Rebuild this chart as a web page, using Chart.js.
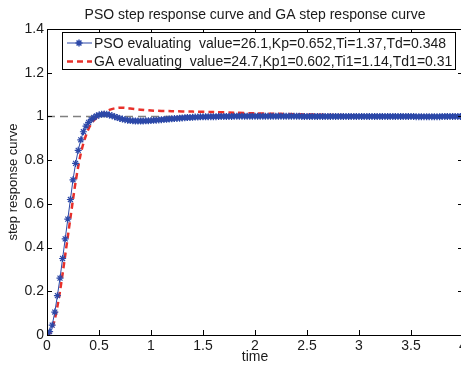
<!DOCTYPE html>
<html>
<head>
<meta charset="utf-8">
<script src="https://cdn.jsdelivr.net/npm/chart.js@4"></script>
<style>
  body { margin: 0; overflow: hidden; background: #fff; }
  #wrap { width: 480px; height: 365px; }
</style>
</head>
<body>
<div id="wrap"><canvas id="stepChart" width="480" height="365"></canvas></div>
<script>
// tick labels
const xTicks = [0, 0.5, 1, 1.5, 2, 2.5, 3, 3.5, 4];
const yTicks = [0, 0.2, 0.4, 0.6, 0.8, 1, 1.2, 1.4];

// PSO response, sampled every 0.025 s from 0 to 4 s
const psoStep = 0.025;
const psoValue = [
  0, 0.015, 0.045, 0.105, 0.18, 0.26, 0.35, 0.44, 0.53, 0.62,
  0.71, 0.785, 0.845, 0.893, 0.93, 0.956, 0.973, 0.985, 0.995, 1.002,
  1.007, 1.010, 1.011, 1.010, 1.007, 1.003, 0.999, 0.995, 0.991, 0.988,
  0.985, 0.983, 0.981, 0.980, 0.979, 0.979, 0.979, 0.979, 0.980, 0.980,
  0.981, 0.982, 0.983, 0.984, 0.985, 0.986, 0.987, 0.988, 0.989, 0.990,
  0.991, 0.992, 0.993, 0.994, 0.995, 0.995, 0.996, 0.997, 0.997, 0.998,
  0.998, 0.998, 0.999, 0.999, 0.999, 0.999, 1.000, 1.000, 1.000, 1.000,
  1.000, 1.000, 1.001, 1.001, 1.001, 1.001, 1.001, 1.001, 1.001, 1.001,
  1.001, 1.001, 1.001, 1.001, 1.001, 1.001, 1.001, 1.001, 1.001, 1.001,
  1.001, 1.001, 1.001, 1.001, 1.001, 1.001, 1.001, 1.001, 1.000, 1.000,
  1.000, 1.000, 1.000, 1.000, 1.000, 1.000, 1.000, 1.000, 1.000, 1.000,
  1.000, 1.000, 1.000, 1.000, 1.000, 1.000, 1.000, 1.000, 1.000, 1.000,
  1.000, 1.000, 1.000, 1.000, 1.000, 1.000, 1.000, 1.000, 1.000, 1.000,
  1.000, 1.000, 1.000, 1.000, 1.000, 1.000, 1.000, 1.000, 1.000, 1.000,
  1.000, 1.000, 0.999, 0.999, 0.999, 0.999, 0.999, 0.999, 0.999, 0.999,
  0.999, 0.999, 1.000, 1.000, 1.000, 1.000, 1.000, 1.000, 1.000, 1.000,
  1.000
];

// GA response
const gaTime = [0, 0.025, 0.05, 0.075, 0.1, 0.125, 0.15, 0.175, 0.2, 0.225, 0.25, 0.275, 0.3, 0.325,
  0.35, 0.375, 0.4, 0.425, 0.45, 0.475, 0.5, 0.55, 0.6, 0.65, 0.7, 0.75, 0.8, 0.9, 1.0,
  1.2, 1.4, 1.6, 1.8, 2.0, 2.2, 2.4, 2.6, 2.8, 3.0, 3.2, 3.4, 3.6, 3.8, 4.0];
const gaValue = [0, 0.008, 0.03, 0.072, 0.13, 0.2, 0.28, 0.365, 0.45, 0.535, 0.62, 0.7, 0.77, 0.83,
  0.877, 0.914, 0.944, 0.966, 0.982, 0.993, 1.002, 1.018, 1.03, 1.037, 1.04, 1.039, 1.036, 1.031, 1.027,
  1.024, 1.022, 1.02, 1.017, 1.014, 1.012, 1.01, 1.008, 1.006, 1.004, 1.003, 1.002, 1.002, 1.001, 1.001];

// set point
const refTime = [0, 4];
const refValue = [1, 1];

const psoLabel = 'PSO evaluating  value=26.1,Kp=0.652,Ti=1.37,Td=0.348';
const gaLabel = 'GA evaluating  value=24.7,Kp1=0.602,Ti1=1.14,Td1=0.31';

const FONT = "'Liberation Sans', Arial, Helvetica, sans-serif";

// frame with inward ticks, legend box, title and axis labels (MATLAB look)
const matlabLook = {
    id: 'matlabLook',
    afterDatasetsDraw(chart) {
        const ctx = chart.ctx;
        const a = chart.chartArea;
        const xs = chart.scales.x, ys = chart.scales.y;
        ctx.save();
        ctx.strokeStyle = '#000';
        ctx.lineWidth = 1;
        ctx.strokeRect(Math.round(a.left) + 0.5, Math.round(a.top) + 0.5,
            Math.round(a.right - a.left), Math.round(a.bottom - a.top));
        const tl = 5;
        ctx.beginPath();
        xTicks.forEach(v => {
            const px = Math.round(xs.getPixelForValue(v)) + 0.5;
            ctx.moveTo(px, a.bottom); ctx.lineTo(px, a.bottom - tl);
            ctx.moveTo(px, a.top); ctx.lineTo(px, a.top + tl);
        });
        yTicks.forEach(v => {
            const py = Math.round(ys.getPixelForValue(v)) + 0.5;
            ctx.moveTo(a.left, py); ctx.lineTo(a.left + tl, py);
            ctx.moveTo(a.right, py); ctx.lineTo(a.right - tl, py);
        });
        ctx.stroke();

        // legend
        const bx = a.left + 15, by = a.top + 3, bw = 393, bh = 37;
        ctx.fillStyle = '#fff';
        ctx.fillRect(bx, by, bw, bh);
        ctx.strokeRect(bx + 0.5, by + 0.5, bw, bh);
        ctx.font = '14px ' + FONT;
        ctx.textBaseline = 'middle';
        ctx.textAlign = 'left';
        const items = chart.data.datasets.filter(d => d.label);
        items.forEach((d, i) => {
            const cy = by + 11 + i * 18.5;
            ctx.save();
            ctx.strokeStyle = d.borderColor;
            ctx.lineWidth = d.borderWidth;
            ctx.setLineDash(d.borderDash || []);
            ctx.beginPath();
            ctx.moveTo(bx + 5, cy); ctx.lineTo(bx + 30, cy);
            ctx.stroke();
            if (d.pointRadius) {
                // small asterisk marker
                const mx = bx + 17, r = d.pointRadius;
                ctx.lineWidth = 1.5;
                ctx.beginPath();
                ctx.moveTo(mx - r, cy); ctx.lineTo(mx + r, cy);
                ctx.moveTo(mx, cy - r); ctx.lineTo(mx, cy + r);
                ctx.moveTo(mx - r * 0.7, cy - r * 0.7); ctx.lineTo(mx + r * 0.7, cy + r * 0.7);
                ctx.moveTo(mx - r * 0.7, cy + r * 0.7); ctx.lineTo(mx + r * 0.7, cy - r * 0.7);
                ctx.stroke();
            }
            ctx.restore();
            ctx.fillStyle = '#1a1a1a';
            ctx.fillText(d.label, bx + 32, cy + 1);
        });
        ctx.restore();
    },
    afterDraw(chart) {
        const ctx = chart.ctx;
        const a = chart.chartArea;
        ctx.save();
        ctx.fillStyle = '#1a1a1a';
        ctx.textAlign = 'center';
        ctx.textBaseline = 'middle';
        ctx.font = '14px ' + FONT;
        ctx.fillText('PSO step response curve and GA step response curve', (a.left + a.right) / 2, 15);
        ctx.fillText('time', (a.left + a.right) / 2, 357);
        ctx.translate(13, (a.top + a.bottom) / 2);
        ctx.rotate(-Math.PI / 2);
        ctx.font = '13px ' + FONT;
        ctx.fillText('step response curve', 0, 0);
        ctx.restore();
    }
};

const ctx = document.getElementById('stepChart').getContext('2d');
const stepChart = new Chart(ctx, {
    type: 'line',
    data: {
        datasets: [{
            label: psoLabel,
            data: psoValue.map((v, i) => ({x: i * psoStep, y: v})),
            borderColor: '#2c48a8',
            backgroundColor: '#2c48a8',
            borderWidth: 1,
            pointStyle: 'star',
            pointRadius: 3.5,
            pointBorderWidth: 1.2,
            pointBorderColor: '#2c48a8'
        }, {
            label: gaLabel,
            data: gaTime.map((t, i) => ({x: t, y: gaValue[i]})),
            borderColor: '#e8302a',
            borderWidth: 2.5,
            borderDash: [6, 4],
            pointRadius: 0,
            tension: 0.3
        }, {
            label: '',
            data: refTime.map((t, i) => ({x: t, y: refValue[i]})),
            borderColor: '#808080',
            borderWidth: 1.5,
            borderDash: [8, 5],
            pointRadius: 0
        }]
    },
    options: {
        responsive: false,
        animation: false,
        layout: { padding: { top: 29, right: 17, left: 0, bottom: 0 } },
        scales: {
            x: {
                type: 'linear',
                min: 0, max: 4,
                afterBuildTicks: s => { s.ticks = xTicks.map(v => ({value: v})); },
                afterFit: s => { s.height = 30; },
                grid: { display: false, drawTicks: false },
                border: { display: false },
                ticks: { padding: 3, color: '#1a1a1a', font: { family: FONT, size: 14 }, maxRotation: 0,
                    callback: v => String(v) }
            },
            y: {
                min: 0, max: 1.4,
                afterBuildTicks: s => { s.ticks = yTicks.map(v => ({value: v})); },
                afterFit: s => { s.width = 47; },
                grid: { display: false, drawTicks: false },
                border: { display: false },
                ticks: { padding: 3, color: '#1a1a1a', font: { family: FONT, size: 14 },
                    callback: v => String(v) }
            }
        },
        plugins: {
            legend: { display: false },
            tooltip: { enabled: false }
        }
    },
    plugins: [matlabLook]
});
</script>
</body>
</html>
